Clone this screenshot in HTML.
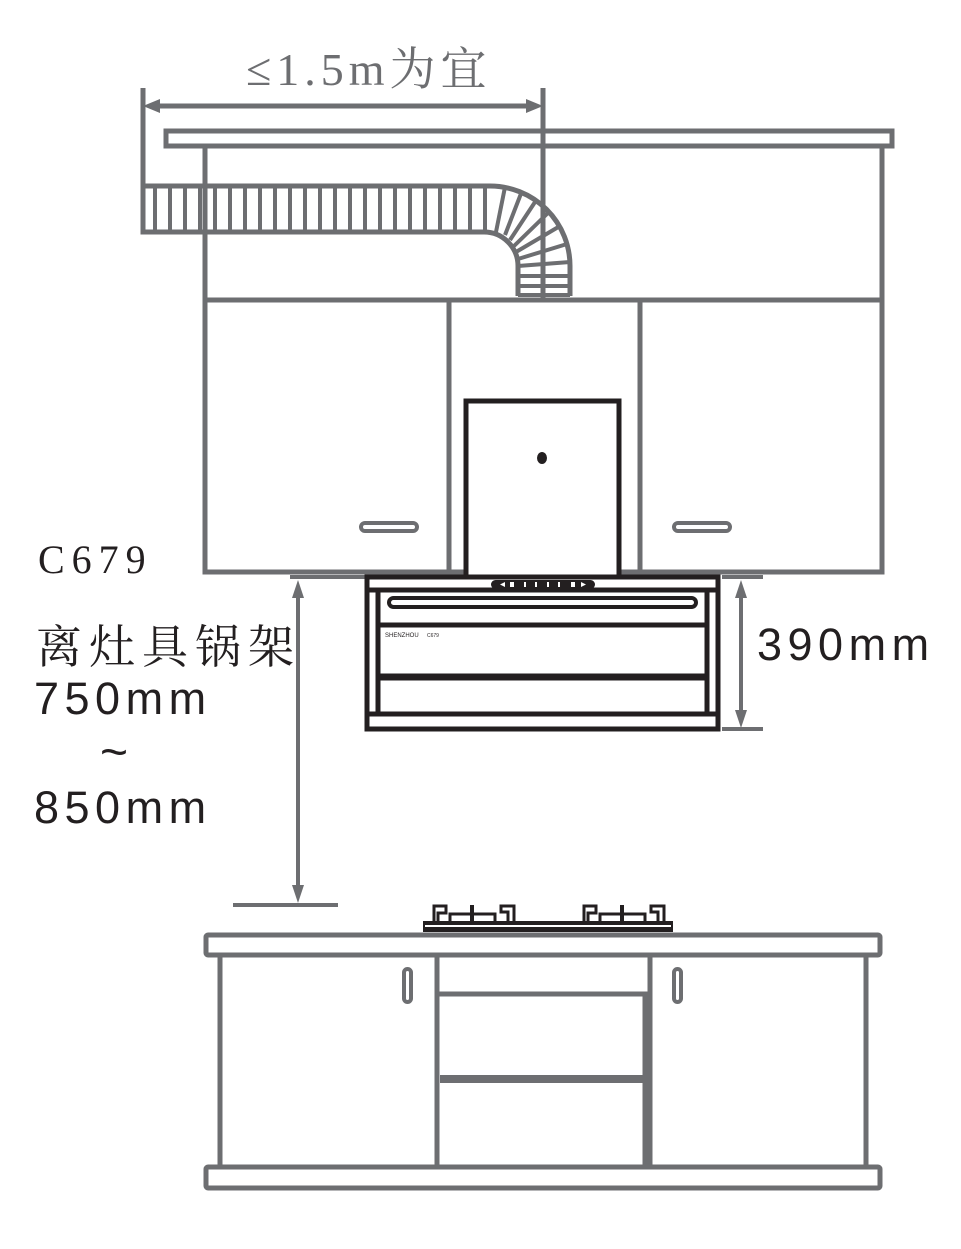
<!DOCTYPE html>
<html><head><meta charset="utf-8"><style>
html,body{margin:0;padding:0;background:#fff;}
svg{display:block;}
</style></head><body>
<svg width="961" height="1249" viewBox="0 0 961 1249" xmlns="http://www.w3.org/2000/svg">
<g fill="none" stroke="#6d6e71" stroke-width="5">
  <line x1="143" y1="88" x2="143" y2="190"/>
  <line x1="543" y1="88" x2="543" y2="300"/>
  <line x1="150" y1="106" x2="536" y2="106"/>
  <rect x="166" y="131" width="726" height="15"/>
  <polyline points="205,147 205,572 882,572 882,147"/>
  <line x1="205" y1="300" x2="882" y2="300"/>
  <line x1="449" y1="300" x2="449" y2="572"/>
  <line x1="640" y1="300" x2="640" y2="572"/>
  <rect x="361" y="523" width="56" height="8" rx="4" stroke-width="4"/>
  <rect x="674" y="523" width="56" height="8" rx="4" stroke-width="4"/>
  <path d="M143,186 L490,186 A80,80 0 0 1 570,266 L570,296"/>
  <path d="M143,186 L143,232 L484,232 A34,34 0 0 1 518,266 L518,296"/>
</g>
<g stroke="#6d6e71" stroke-width="4">
  <line x1="155" y1="186" x2="155" y2="232"/><line x1="170" y1="186" x2="170" y2="232"/>
  <line x1="185" y1="186" x2="185" y2="232"/><line x1="200" y1="186" x2="200" y2="232"/>
  <line x1="215" y1="186" x2="215" y2="232"/><line x1="230" y1="186" x2="230" y2="232"/>
  <line x1="245" y1="186" x2="245" y2="232"/><line x1="260" y1="186" x2="260" y2="232"/>
  <line x1="275" y1="186" x2="275" y2="232"/><line x1="290" y1="186" x2="290" y2="232"/>
  <line x1="305" y1="186" x2="305" y2="232"/><line x1="320" y1="186" x2="320" y2="232"/>
  <line x1="335" y1="186" x2="335" y2="232"/><line x1="350" y1="186" x2="350" y2="232"/>
  <line x1="365" y1="186" x2="365" y2="232"/><line x1="380" y1="186" x2="380" y2="232"/>
  <line x1="395" y1="186" x2="395" y2="232"/><line x1="410" y1="186" x2="410" y2="232"/>
  <line x1="425" y1="186" x2="425" y2="232"/><line x1="440" y1="186" x2="440" y2="232"/>
  <line x1="455" y1="186" x2="455" y2="232"/><line x1="470" y1="186" x2="470" y2="232"/>
  <line x1="485" y1="186" x2="485" y2="232"/>
  <line x1="496" y1="232" x2="505" y2="187"/><line x1="505" y1="235" x2="522" y2="191"/>
  <line x1="510" y1="240" x2="537" y2="199"/><line x1="514" y1="246" x2="550" y2="211"/>
  <line x1="516" y1="252" x2="560" y2="226"/><line x1="518" y1="259" x2="567" y2="244"/>
  <line x1="518" y1="266" x2="570" y2="262"/><line x1="518" y1="276" x2="570" y2="276"/>
  <line x1="518" y1="286" x2="570" y2="286"/><line x1="518" y1="295" x2="570" y2="295"/>
</g>
<g fill="#6d6e71">
  <polygon points="143,106 160,99 160,113"/>
  <polygon points="543,106 526,99 526,113"/>
  <polygon points="298,580 292,598 304,598"/>
  <polygon points="298,903 292,885 304,885"/>
  <polygon points="741,580 735,598 747,598"/>
  <polygon points="741,728 735,710 747,710"/>
</g>
<g stroke="#6d6e71" stroke-width="4">
  <line x1="290" y1="577" x2="366" y2="577"/>
  <line x1="298" y1="590" x2="298" y2="895"/>
  <line x1="233" y1="905" x2="338" y2="905"/>
  <line x1="722" y1="577" x2="763" y2="577"/>
  <line x1="722" y1="729" x2="763" y2="729"/>
  <line x1="741" y1="590" x2="741" y2="720"/>
</g>
<rect x="466" y="401" width="153" height="176" fill="#fff" stroke="#231f20" stroke-width="5"/>
<ellipse cx="542" cy="458" rx="5" ry="6" fill="#231f20"/>
<g fill="none" stroke="#231f20">
  <rect x="367" y="577" width="351" height="152" stroke-width="5" fill="#fff"/>
  <line x1="367" y1="590" x2="718" y2="590" stroke-width="5"/>
  <line x1="378" y1="590" x2="378" y2="714" stroke-width="5"/>
  <line x1="707" y1="590" x2="707" y2="714" stroke-width="5"/>
  <rect x="389" y="598" width="307" height="9" rx="4.5" stroke-width="4"/>
  <line x1="378" y1="625" x2="707" y2="625" stroke-width="5"/>
  <line x1="378" y1="677" x2="707" y2="677" stroke-width="7"/>
  <line x1="367" y1="714" x2="718" y2="714" stroke-width="5"/>
</g>
<rect x="491" y="580" width="104" height="9" rx="4.5" fill="#231f20"/>
<g fill="#fff">
  <polygon points="500,584.5 505,582 505,587"/>
  <rect x="510" y="582" width="4" height="5"/>
  <rect x="524" y="582" width="2" height="5"/><rect x="535" y="582" width="2" height="5"/>
  <rect x="547" y="582" width="2" height="5"/><rect x="558" y="582" width="2" height="5"/>
  <rect x="571" y="582" width="4" height="5"/>
  <polygon points="586,584.5 581,582 581,587"/>
</g>
<text x="385" y="637" font-family="Liberation Sans, sans-serif" font-size="6" fill="#231f20">SHENZHOU</text>
<text x="427" y="637" font-family="Liberation Sans, sans-serif" font-size="5" fill="#231f20">C679</text>
<g fill="none" stroke="#231f20" stroke-width="3">
  <path d="M434,921 L434,906 L446,906 L446,913 L438,913 L438,921"/>
  <path d="M450,921 L450,914 L495,914 L495,921"/>
  <line x1="472" y1="905" x2="472" y2="921" stroke-width="4"/>
  <path d="M514,921 L514,906 L501,906 L501,912 L508,912 L508,921"/>
  <path d="M584,921 L584,906 L596,906 L596,913 L588,913 L588,921"/>
  <path d="M600,921 L600,914 L645,914 L645,921"/>
  <line x1="622" y1="905" x2="622" y2="921" stroke-width="4"/>
  <path d="M664,921 L664,906 L651,906 L651,912 L658,912 L658,921"/>
</g>
<rect x="423" y="921" width="250" height="11" fill="#231f20"/>
<line x1="425" y1="926" x2="671" y2="926" stroke="#fff" stroke-width="2"/>
<g fill="none" stroke="#6d6e71" stroke-width="5">
  <rect x="206" y="935" width="674" height="20" rx="2"/>
  <line x1="220" y1="955" x2="220" y2="1167"/>
  <line x1="866" y1="955" x2="866" y2="1167"/>
  <line x1="437" y1="955" x2="437" y2="1167"/>
  <line x1="650" y1="955" x2="650" y2="1167"/>
  <polyline points="437,994 645,994 645,1167"/>
  <line x1="440" y1="1079" x2="648" y2="1079" stroke-width="8"/>
  <rect x="206" y="1167" width="674" height="21" rx="2"/>
  <rect x="404" y="969" width="7" height="33" rx="3.5" stroke-width="4"/>
  <rect x="674" y="969" width="7" height="33" rx="3.5" stroke-width="4"/>
</g>
<text x="246" y="85" font-family="Liberation Serif, 'Noto Serif CJK SC', serif" font-size="46" letter-spacing="5" fill="#6d6e71">≤1.5m为宜</text>
<text x="38" y="573" font-family="Liberation Serif, serif" font-size="40" letter-spacing="7" fill="#231f20">C679</text>
<text x="36" y="663" font-family="Liberation Serif, 'Noto Serif CJK SC', serif" font-size="46" letter-spacing="7" fill="#231f20">离灶具锅架</text>
<text x="34" y="714" font-family="Liberation Sans, sans-serif" font-size="45" letter-spacing="5.5" fill="#231f20">750mm</text>
<text x="100" y="768" font-family="Liberation Sans, sans-serif" font-size="48" fill="#231f20">~</text>
<text x="34" y="823" font-family="Liberation Sans, sans-serif" font-size="45" letter-spacing="5.5" fill="#231f20">850mm</text>
<text x="757" y="660" font-family="Liberation Sans, sans-serif" font-size="45" letter-spacing="5.5" fill="#231f20">390mm</text>
</svg>
</body></html>
